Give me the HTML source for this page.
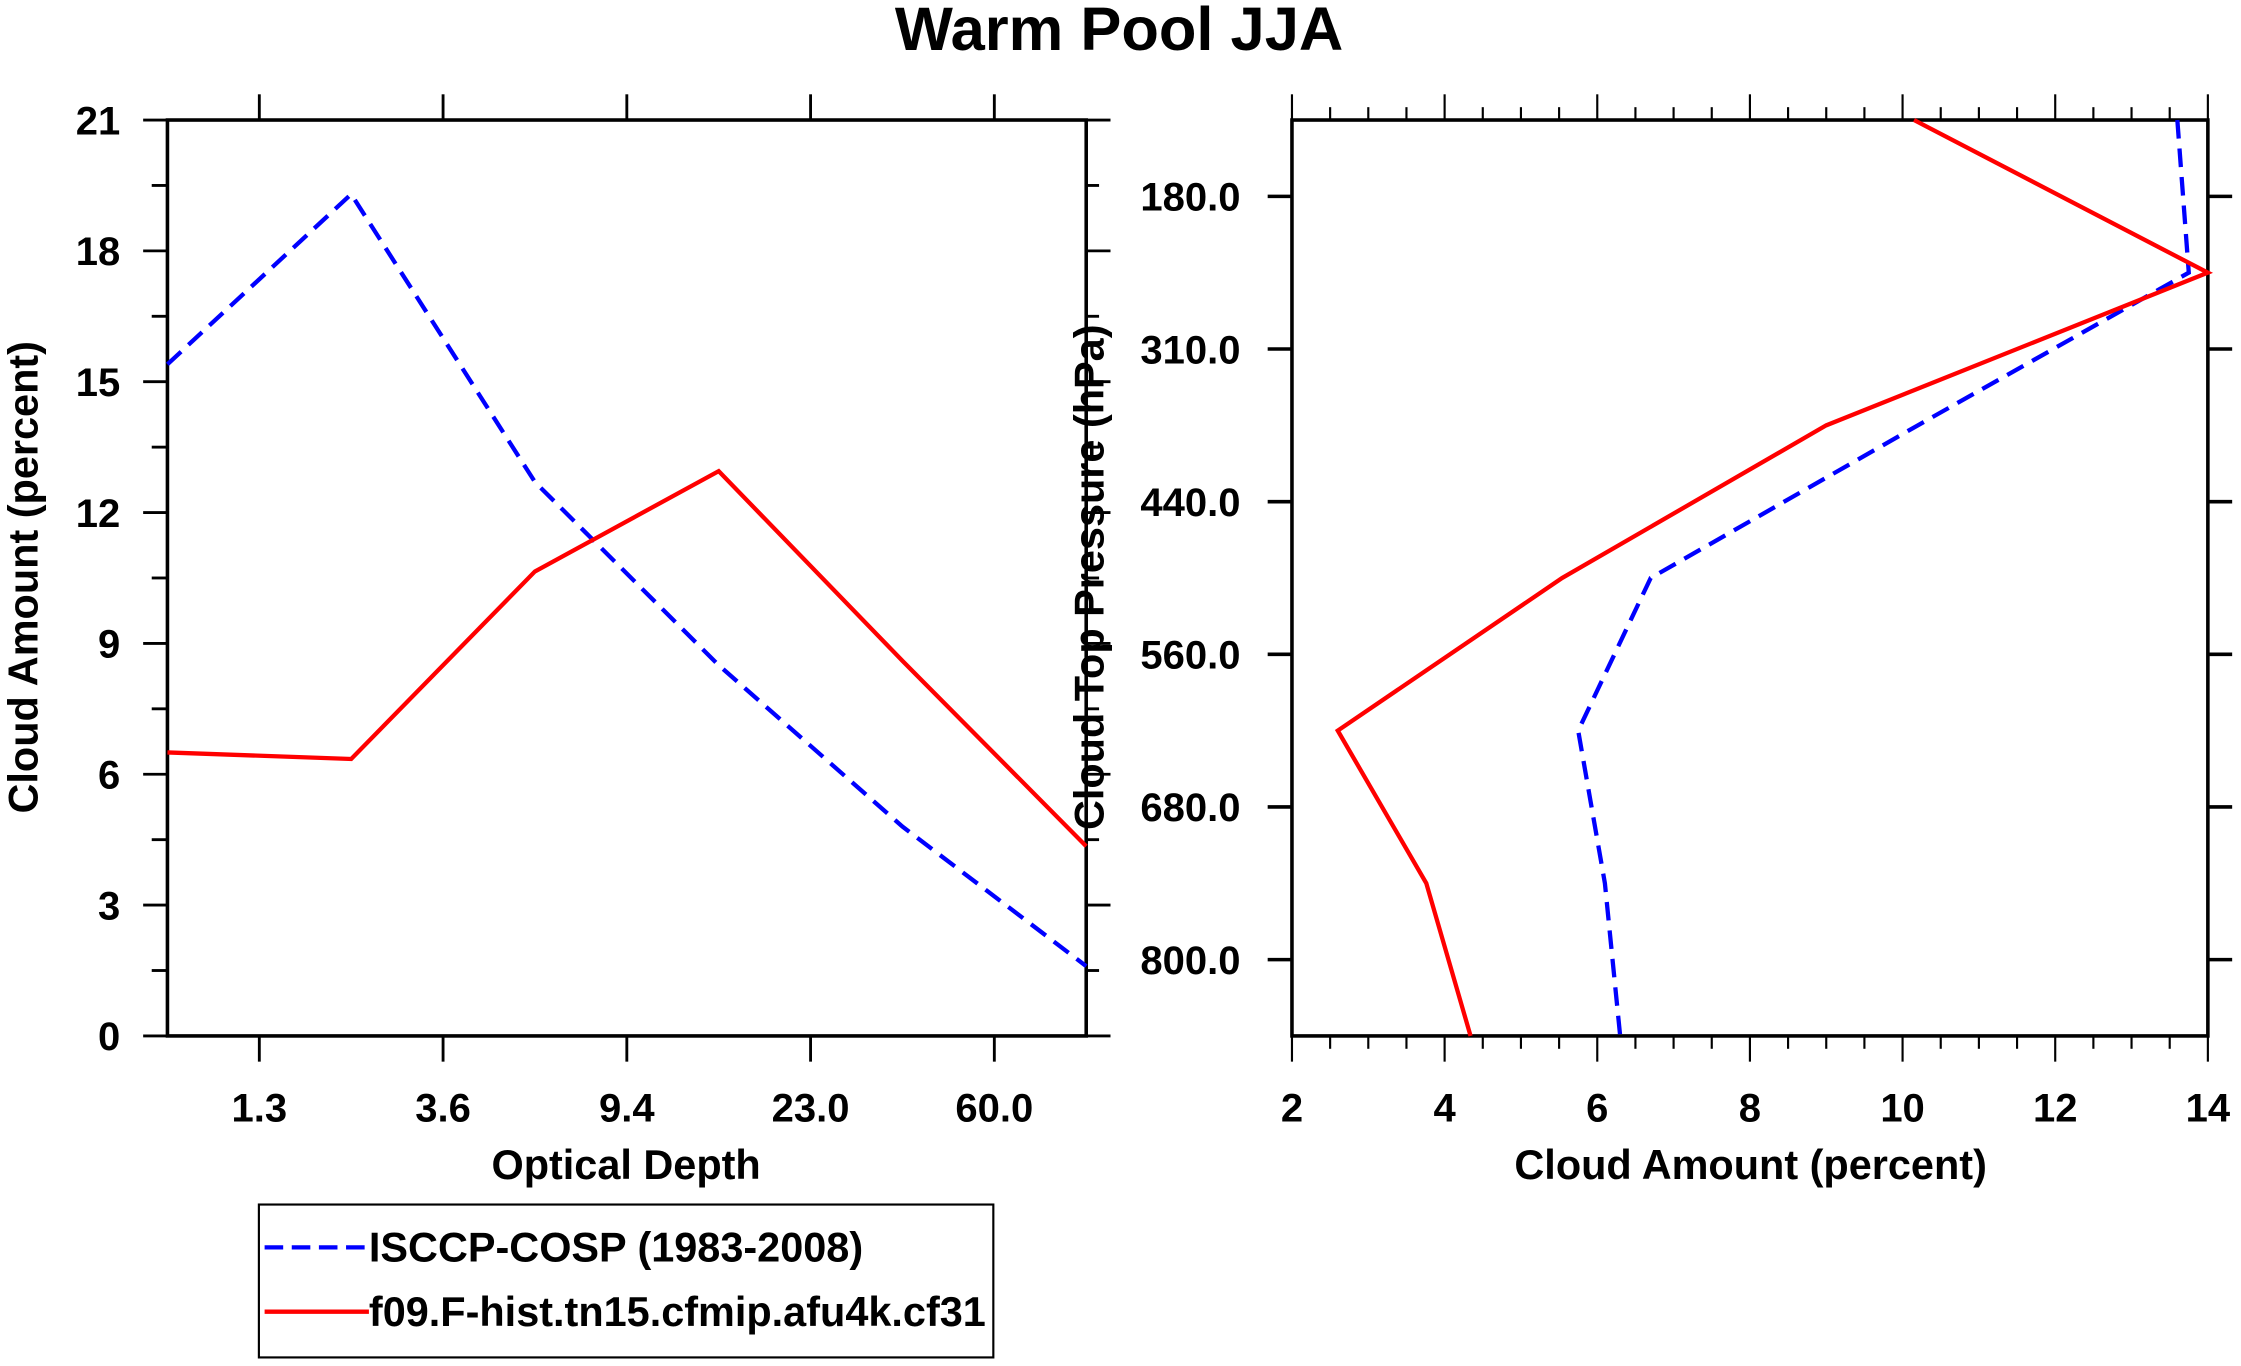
<!DOCTYPE html>
<html><head><meta charset="utf-8"><style>
html,body{margin:0;padding:0;background:#fff;}
svg{display:block;}
text{font-family:"Liberation Sans",Arial,sans-serif;font-weight:bold;fill:#000;}
</style></head><body>
<svg id="chart" width="2241" height="1366" viewBox="0 0 1568 956" xmlns="http://www.w3.org/2000/svg">
<rect x="0" y="0" width="1568" height="956" fill="#fff"/>
<text x="783" y="35" font-size="43" text-anchor="middle">Warm Pool JJA</text>
<g id="left"></g>
<g id="right"></g>
<g>
<rect x="181" y="843" width="514" height="107" fill="none" stroke="#000" stroke-width="1.5"/>
<line x1="185" y1="873" x2="258" y2="873" stroke="#0000ff" stroke-width="3" stroke-dasharray="13,6"/>
<text x="258" y="883" font-size="29">ISCCP-COSP (1983-2008)</text>
<line x1="185" y1="918" x2="258" y2="918" stroke="#ff0000" stroke-width="3"/>
<text x="258" y="928" font-size="29">f09.F-hist.tn15.cfmip.afu4k.cf31</text>
</g>
</svg>
<script>
const leftCats = [0,1,2,3,4,5];
const leftTickLabels = ["1.3","3.6","9.4","23.0","60.0"];
const leftIsccp = [15.4,19.3,12.7,8.5,4.8,1.6];
const leftModel = [6.5,6.35,10.65,12.95,8.6,4.35];
const leftYTicks = [0,3,6,9,12,15,18,21];

const rightLevels = [0,1,2,3,4,5,6];
const rightTickLabels = ["180.0","310.0","440.0","560.0","680.0","800.0"];
const rightIsccp = [13.6,13.75,10.2,6.7,5.75,6.1,6.3];
const rightModel = [10.15,14.0,9.0,5.54,2.6,3.76,4.34];
const rightXTicks = [2,4,6,8,10,12,14];

const NS="http://www.w3.org/2000/svg";
function mk(parent,tag,attrs){const e=document.createElementNS(NS,tag);for(const k in attrs)e.setAttribute(k,attrs[k]);parent.appendChild(e);return e;}
function ln(p,x1,y1,x2,y2,w){const e=mk(p,'line',{x1,y1,x2,y2,stroke:'#000','stroke-width':w||2.5});


return e;}

// LEFT
const L=document.getElementById('left');
const lx0=117,lx1=760,ly0=725,ly1=84;
const lxs=i=>lx0+(lx1-lx0)*i/5;
const lys=v=>ly0-(ly0-ly1)*v/21;
const lframe=mk(L,'rect',{x:lx0,y:ly1,width:lx1-lx0,height:ly0-ly1,fill:'none',stroke:'#000','stroke-width':2.5});


for(let v=0;v<=21;v+=1.5){const major=leftYTicks.includes(v);
ln(L,major?100:106,lys(v),lx0,lys(v),2);
ln(L,lx1,lys(v),major?777:769,lys(v),2);}
leftYTicks.forEach(v=>{const t=mk(L,'text',{x:84,y:lys(v)+10,'font-size':28,'text-anchor':'end'});t.textContent=v;

});
leftTickLabels.forEach((s,i)=>{const x=lxs(i+0.5);ln(L,x,66,x,ly1,2);ln(L,x,ly0,x,743,2);
const t=mk(L,'text',{x:x,y:785,'font-size':28,'text-anchor':'middle'});t.textContent=s;

});
let t=mk(L,'text',{x:438,y:825,'font-size':29,'text-anchor':'middle'});t.textContent='Optical Depth';


t=mk(L,'text',{x:0,y:0,'font-size':29,'text-anchor':'middle',transform:'translate(26,404) rotate(-90)'});t.textContent='Cloud Amount (percent)';


let p=mk(L,'polyline',{points:leftCats.map(i=>lxs(i)+','+lys(leftIsccp[i])).join(' '),fill:'none',stroke:'#0000ff','stroke-width':3,'stroke-dasharray':'13,7'});


p=mk(L,'polyline',{points:leftCats.map(i=>lxs(i)+','+lys(leftModel[i])).join(' '),fill:'none',stroke:'#ff0000','stroke-width':3});



// RIGHT
const R=document.getElementById('right');
const rx0=904,rx1=1545,ry0=84,ry1=725;
const rxs=v=>rx0+(rx1-rx0)*(v-2)/12;
const rys=i=>ry0+(ry1-ry0)*i/6;
const rframe=mk(R,'rect',{x:rx0,y:ry0,width:rx1-rx0,height:ry1-ry0,fill:'none',stroke:'#000','stroke-width':2.5});


for(let v=2;v<=14.001;v+=0.5){const major=Math.abs(v-Math.round(v))<0.01&&Math.round(v)%2===0;const x=rxs(v);
ln(R,x,major?66:75,x,ry0,1.5);ln(R,x,ry1,x,major?743:734,1.5);}
rightXTicks.forEach(v=>{const t=mk(R,'text',{x:rxs(v),y:785,'font-size':28,'text-anchor':'middle'});t.textContent=v;

});
rightTickLabels.forEach((s,i)=>{const y=rys(i+0.5);ln(R,887,y,rx0,y,2.5);ln(R,rx1,y,1562,y,2.5);
const t=mk(R,'text',{x:868,y:y+10,'font-size':28,'text-anchor':'end'});t.textContent=s;

});
t=mk(R,'text',{x:1225,y:825,'font-size':29,'text-anchor':'middle'});t.textContent='Cloud Amount (percent)';


t=mk(R,'text',{x:0,y:0,'font-size':29,'text-anchor':'middle',transform:'translate(772,404) rotate(-90)'});t.textContent='Cloud Top Pressure (hPa)';


p=mk(R,'polyline',{points:rightLevels.map(i=>rxs(rightIsccp[i])+','+rys(i)).join(' '),fill:'none',stroke:'#0000ff','stroke-width':3,'stroke-dasharray':'13,7'});


p=mk(R,'polyline',{points:rightLevels.map(i=>rxs(rightModel[i])+','+rys(i)).join(' '),fill:'none',stroke:'#ff0000','stroke-width':3});


</script>
</body></html>
